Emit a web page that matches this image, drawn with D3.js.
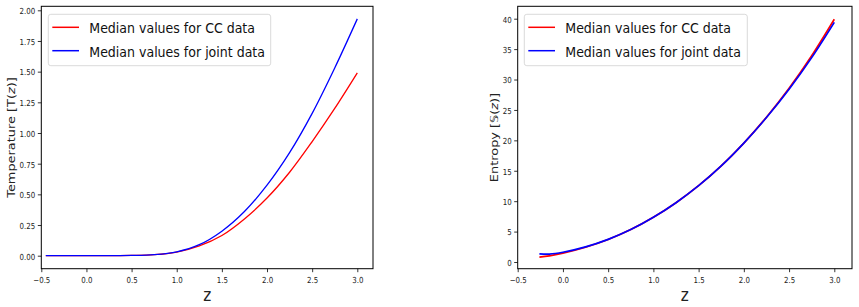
<html>
  <head>
    <meta charset="utf-8">
    <script type="text/javascript" src="https://cdn.jsdelivr.net/npm/d3@7"></script>
    <style>
      body { margin: 0; background: #fff; }
      text { font-family: "DejaVu Sans"; }
    </style>
  </head>
  <body>
    <script>
        // values
        var zTemp = [-0.45, -0.25, 0, 0.25, 0.5, 0.75, 1.0, 1.25, 1.5, 1.75, 2.0, 2.25, 2.5, 2.75, 3.0];
        var tempCC = [0, 0, 0, 0.0005, 0.002, 0.008, 0.03, 0.08, 0.165, 0.30, 0.47, 0.68, 0.93, 1.20, 1.49];
        var tempJoint = [0, 0, 0, 0.0005, 0.002, 0.009, 0.032, 0.09, 0.20, 0.36, 0.575, 0.84, 1.16, 1.53, 1.93];

        var zEnt = [-0.26, -0.15, 0, 0.25, 0.5, 0.75, 1.0, 1.25, 1.5, 1.75, 2.0, 2.25, 2.5, 2.75, 3.0];
        var entCC = [0.8, 1.0, 1.45, 2.43, 3.7, 5.33, 7.35, 9.75, 12.55, 15.8, 19.55, 23.8, 28.55, 33.9, 39.9];
        var entJoint = [1.35, 1.3, 1.6, 2.48, 3.72, 5.33, 7.35, 9.75, 12.55, 15.8, 19.55, 23.75, 28.4, 33.6, 39.4];

        var legendLabels = ["Median values for CC data", "Median values for joint data"];
        var seriesColors = ["#ff0000", "#0000ff"];
        var xTicks = [-0.5, 0, 0.5, 1.0, 1.5, 2.0, 2.5, 3.0];
        var tempTicks = [0, 0.25, 0.5, 0.75, 1.0, 1.25, 1.5, 1.75, 2.0];
        var entTicks = [0, 5, 10, 15, 20, 25, 30, 35, 40];

        var width = 859, height = 307;
        var sx = 0.85; // the picture is squeezed sideways, so is its text

        var svg = d3.select("body").append("svg")
            .attr("width", width)
            .attr("height", height);

        function drawPanel(p) {
            var x = d3.scaleLinear().domain([-0.5, 3.0]).range([p.left, p.x3]);
            var y = d3.scaleLinear().domain(p.yDom).range(p.yRange);
            var g = svg.append("g");

            // lines
            var line = d3.line()
                .x(function(d) { return x(d[0]); })
                .y(function(d) { return y(d[1]); })
                .curve(d3.curveCatmullRom.alpha(0.5));

            p.series.forEach(function(s, i) {
                g.append("path")
                    .datum(d3.zip(p.z, s))
                    .attr("d", line)
                    .attr("fill", "none")
                    .attr("stroke", seriesColors[i])
                    .attr("stroke-width", p.lw);
            });

            // axes
            var xAxis = g.append("g")
                .attr("transform", "translate(0," + p.bottom + ")")
                .call(d3.axisBottom(x).tickValues(xTicks).tickSize(3.5).tickPadding(4.5)
                    .tickFormat(d3.format(".1f")));
            var yAxis = g.append("g")
                .attr("transform", "translate(" + p.left + ",0)")
                .call(d3.axisLeft(y).tickValues(p.yTicks).tickSize(3.5).tickFormat(p.yFmt));

            [xAxis, yAxis].forEach(function(a) {
                a.select(".domain").remove();
                a.attr("font-family", null).attr("font-size", null);
                a.selectAll("line").attr("stroke", "#000").attr("stroke-width", 0.8);
                a.selectAll("text")
                    .attr("fill", "#222")
                    .style("font-size", "8.3px")
                    .attr("transform", "scale(" + sx + ",1)");
            });
            yAxis.selectAll("text").attr("x", -6 / sx).attr("dy", "0.4em");

            // frame
            g.append("rect")
                .attr("x", p.left).attr("y", p.top)
                .attr("width", p.right - p.left).attr("height", p.bottom - p.top)
                .attr("fill", "none").attr("stroke", "#000").attr("stroke-width", 1);

            // axis labels
            g.append("text")
                .attr("transform", "translate(" + (p.left + p.right) / 2 + ",300.5) scale(" + sx + ",1)")
                .attr("text-anchor", "middle")
                .style("font-size", "18px")
                .attr("fill", "#222")
                .text("z");

            var yl = g.append("text")
                .attr("transform", "translate(" + p.ylx + "," + (p.top + p.bottom) / 2 + ") scale(" + sx + ",1) rotate(-90)")
                .attr("text-anchor", "middle")
                .attr("dy", "0.35em")
                .style("font-size", "12.9px")
                .attr("fill", "#222");
            yl.append("tspan").text(p.ylabel[0]);
            yl.append("tspan").style("font-style", "italic").text("z");
            yl.append("tspan").text(p.ylabel[1]);

            // legend
            var lg = g.append("g").attr("transform", "translate(" + p.legX + ",14.3)");
            lg.append("rect")
                .attr("width", p.legW).attr("height", 51.4)
                .attr("rx", 2.5)
                .attr("fill", "#fff").attr("fill-opacity", 0.8)
                .attr("stroke", "#d0d0d0").attr("stroke-width", 0.8);
            legendLabels.forEach(function(t, i) {
                var ry = 13 + i * 23.4;
                lg.append("line")
                    .attr("x1", 4).attr("x2", 30.7)
                    .attr("y1", ry).attr("y2", ry)
                    .attr("stroke", seriesColors[i]).attr("stroke-width", 1.5);
                lg.append("text")
                    .attr("transform", "translate(41," + (ry + 6) + ") scale(" + sx + ",1)")
                    .style("font-size", "14.8px")
                    .attr("fill", "#111")
                    .text(t);
            });
        }

        drawPanel({
            left: 41.3, right: 373, top: 6.3, bottom: 268.7, x3: 357.3,
            yDom: [0, 2], yRange: [255.7, 10.3],
            yTicks: tempTicks, yFmt: d3.format(".2f"),
            z: zTemp, series: [tempCC, tempJoint], lw: 1.3,
            ylx: 11, ylabel: ["Temperature [T(", ")]"],
            legX: 48.3, legW: 222.4
        });

        drawPanel({
            left: 517.7, right: 852, top: 6.3, bottom: 268.7, x3: 834.3,
            yDom: [0, 40], yRange: [262, 18.7],
            yTicks: entTicks, yFmt: d3.format("d"),
            z: zEnt, series: [entCC, entJoint], lw: 1.7,
            ylx: 494.3, ylabel: ["Entropy [\uD835\uDD4A(", ")]"],
            legX: 524.3, legW: 223
        });
    </script>
  </body>
</html>
